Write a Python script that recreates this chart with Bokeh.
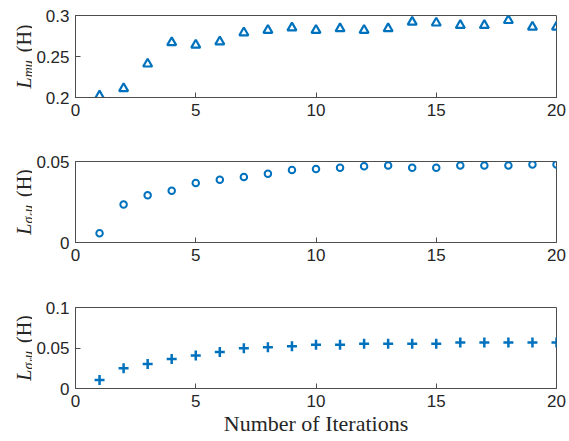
import math
from bokeh.plotting import figure
from bokeh.models import FixedTicker, Label, Range1d
from bokeh.layouts import column, row
from bokeh.embed import file_html
from bokeh.resources import INLINE

# ---- data ----
iterations = list(range(1, 21))
L_mu = [0.202, 0.211, 0.241, 0.267, 0.264, 0.268, 0.279, 0.282, 0.285, 0.282,
        0.284, 0.282, 0.284, 0.292, 0.291, 0.288, 0.288, 0.294, 0.286, 0.286]
L_sigma_s = [0.0057, 0.0234, 0.0291, 0.0319, 0.0368, 0.0388, 0.0404, 0.0425, 0.0447, 0.0453,
             0.0461, 0.0470, 0.0476, 0.0461, 0.0461, 0.0476, 0.0476, 0.0476, 0.0482, 0.0482]
L_sigma_r = [0.0104, 0.0249, 0.0303, 0.0365, 0.0407, 0.0452, 0.0498, 0.0510, 0.0523, 0.0540,
             0.0540, 0.0552, 0.0552, 0.0552, 0.0552, 0.0568, 0.0568, 0.0568, 0.0568, 0.0568]
x_ticks = [0, 5, 10, 15, 20]
top_ticks = [0.2, 0.25, 0.3]
top_tick_labels = ["0.2", "0.25", "0.3"]
mid_ticks = [0, 0.05]
mid_tick_labels = ["0", "0.05"]
bot_ticks = [0, 0.05, 0.1]
bot_tick_labels = ["0", "0.05", "0.1"]
x_label = "Number of Iterations"

COLOR = "#0072BD"
AXC = "#4d4d4d"
TXT = "#262626"
TICK_FONT = "Liberation Sans"
SERIF = "Liberation Serif"
LAB_W = 32
FRAME_L = 75
FRAME_W = 481

WIDTHS_IT = {"L": 0.556, "m": 0.722, "u": 0.5, "s": 0.389, "r": 0.389, "σ": 0.55}
WIDTHS_RM = {"(": 0.333, "H": 0.722, ")": 0.333, " ": 0.4}


def text_w(t, style, size):
    tbl = WIDTHS_IT if style == "italic" else WIDTHS_RM
    return sum(tbl.get(c, 0.5) for c in t) * size


def make_fig(ymin, ymax, yticks, ylabels, top, bottom, fh):
    p = figure(frame_width=FRAME_W, frame_height=fh,
               min_border_left=FRAME_L - LAB_W, min_border_right=569 - FRAME_L - FRAME_W,
               min_border_top=top, min_border_bottom=bottom,
               x_range=Range1d(0, 20), y_range=Range1d(ymin, ymax),
               output_backend="svg", toolbar_location=None)
    p.grid.visible = False
    p.outline_line_color = AXC
    p.background_fill_color = "white"
    p.border_fill_color = "white"
    p.xaxis.ticker = FixedTicker(ticks=x_ticks)
    p.yaxis.ticker = FixedTicker(ticks=yticks)
    p.yaxis.major_label_overrides = {t: l for t, l in zip(yticks, ylabels)}
    for ax in (p.xaxis[0], p.yaxis[0]):
        ax.major_tick_in = 5
        ax.major_tick_out = 0
        ax.minor_tick_line_color = None
        ax.axis_line_color = AXC
        ax.major_tick_line_color = AXC
        ax.major_label_text_font = TICK_FONT
        ax.major_label_text_font_size = "17px"
        ax.major_label_text_color = TXT
        ax.major_label_standoff = 6
    return p


def make_label_fig(top, bottom, fh, pieces, size=20, base_x=23):
    lf = figure(frame_width=LAB_W, frame_height=fh, x_range=Range1d(0, 1), y_range=Range1d(0, 1),
                min_border_left=0, min_border_right=0, min_border_top=top,
                min_border_bottom=bottom, x_axis_type=None, y_axis_type=None,
                output_backend="svg", toolbar_location=None)
    lf.grid.visible = False
    lf.outline_line_color = None
    lf.background_fill_color = "white"
    lf.border_fill_color = "white"
    total = sum(text_w(t, s, size * sc) for t, s, sc, sh in pieces)
    y = fh / 2 - total / 2          # screen units: from frame bottom, upward
    for t, s, sc, sh in pieces:
        fs = size * sc
        lf.add_layout(Label(x=base_x + sh * size, y=y, x_units="screen", y_units="screen",
                            text=t, angle=math.pi / 2, text_align="left",
                            text_baseline="alphabetic", text_font=SERIF,
                            text_font_style=s, text_font_size=f"{fs:.1f}px",
                            text_color=TXT))
        y += text_w(t, s, fs)
    return lf


# top
p1 = make_fig(0.2, 0.3, top_ticks, top_tick_labels, 15, 33, 82)
p1.scatter(iterations, L_mu, marker="triangle", size=9, fill_color=None,
           line_color=COLOR, line_width=2.2)
l1 = make_label_fig(15, 33, 82, [("L", "italic", 1, 0), ("mu", "italic", 0.7, 0.27),
                                 (" ", "normal", 1, 0), ("(H)", "normal", 1, 0)])

# middle
p2 = make_fig(0, 0.05, mid_ticks, mid_tick_labels, 31, 34, 81)
p2.scatter(iterations, L_sigma_s, marker="circle", size=6.5, fill_color=None,
           line_color=COLOR, line_width=2)
l2 = make_label_fig(31, 34, 81, [("L", "italic", 1, 0), ("σ", "italic", 0.7, 0.27),
                                 ("s", "italic", 0.5, 0.4), ("u", "italic", 0.7, 0.27),
                                 (" ", "normal", 1, 0), ("(H)", "normal", 1, 0)])

# bottom
p3 = make_fig(0, 0.1, bot_ticks, bot_tick_labels, 31, 53, 81)
p3.scatter(iterations, L_sigma_r, marker="cross", size=10, line_color=COLOR, line_width=2.5)
l3 = make_label_fig(31, 53, 81, [("L", "italic", 1, 0), ("σ", "italic", 0.7, 0.27),
                                 ("r", "italic", 0.5, 0.4), ("u", "italic", 0.7, 0.27),
                                 (" ", "normal", 1, 0), ("(H)", "normal", 1, 0)])
xb = p3.below[0]
xb.axis_label = x_label
xb.axis_label_text_font = SERIF
xb.axis_label_text_font_style = "normal"
xb.axis_label_text_font_size = "22px"
xb.axis_label_text_color = TXT
xb.axis_label_standoff = 1

layout = column(row(l1, p1, spacing=0), row(l2, p2, spacing=0), row(l3, p3, spacing=0),
                spacing=0)
open("out.html", "w").write(file_html(layout, INLINE))
